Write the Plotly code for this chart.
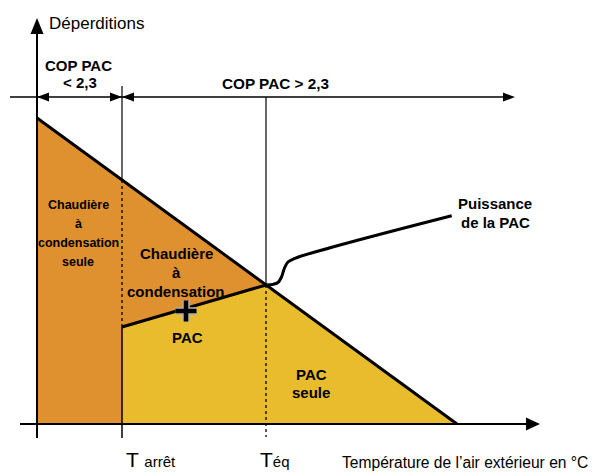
import numpy as np
import plotly.graph_objects as go

# ---------------- data (abstract units: x = outdoor temperature scale, y = heat losses) -------------
dep_x = [0, 420]            # heat-loss line ("Déperditions") from coldest temp to zero-loss temp
dep_y = [306, 0]
T_arret = 85                # heat-pump shutdown temperature
T_eq = 229                  # balance temperature
pac_x = [85, 229]           # heat pump power between T_arret and T_eq
pac_y = [97, 139]
pw_x = [229, 236, 241, 244.5, 247.5, 251, 258, 414.7]   # "Puissance de la PAC" curve
pw_y = [139, 139.6, 141.5, 147, 156, 162, 165.7, 208.3]
cop_split = [0, 85, 478]    # COP zones (dimension line)
x_labels = ["T ", "T"]
x_subs = ["arrêt", "éq"]

ORANGE = "#E0912F"
YELLOW = "#E8BC2C"
FONT = "Liberation Sans, Arial, sans-serif"

def dep(x):
    return float(np.interp(x, dep_x, dep_y))

# page pixel -> data helpers for layout positions (origin of axes at page px (37,424))
OX, OY = 37, 424
def X(px): return px - OX
def Y(py): return OY - py

PAGE_OFF = 8   # default body margin of the html page

fig = go.Figure()

def poly(xs, ys, color):
    fig.add_trace(go.Scatter(x=xs + [xs[0]], y=ys + [ys[0]], mode="lines", fill="toself",
                             fillcolor=color, line=dict(width=0, color=color), hoverinfo="skip"))

def line(xs, ys, width=1.5, dash="solid", color="black", shape="linear"):
    fig.add_trace(go.Scatter(x=xs, y=ys, mode="lines",
                             line=dict(width=width, dash=dash, color=color, shape=shape),
                             hoverinfo="skip"))

# areas
poly([0, 0, T_arret, T_arret], [0, dep(0), dep(T_arret), 0], ORANGE)
poly([T_arret, T_eq, T_arret], [dep(T_arret), pac_y[1], pac_y[0]], ORANGE)
poly([T_arret, T_eq, dep_x[1], T_arret], [pac_y[0], pac_y[1], 0, 0], YELLOW)

# vertical guides
line([T_arret, T_arret], [Y(86), dep(T_arret)], width=1.2)
line([T_arret, T_arret], [dep(T_arret), pac_y[0]], width=1.3, dash="dot")
line([T_arret, T_arret], [pac_y[0], Y(438)], width=1.5)
line([T_eq, T_eq], [Y(97), pac_y[1]], width=1.2)
line([T_eq, T_eq], [pac_y[1], Y(437)], width=1.3, dash="dot")

# axes
line([X(20), X(527)], [0, 0], width=2)
poly([X(526), X(540), X(526)], [6.5, 0, -6.5], "black")
line([0, 0], [Y(438), Y(34)], width=2)
poly([-6.5, 0, 6.5], [Y(34), Y(18), Y(34)], "black")

# dimension line for COP zones
yd = Y(97)
line([X(10), X(505)], [yd, yd], width=1.5)
for tip, d in [(cop_split[0], 1), (cop_split[1], -1), (cop_split[1], 1), (cop_split[2], -1)]:
    poly([tip, tip + d * 12, tip + d * 12], [yd, yd + 4.5, yd - 4.5], "black")

# main lines
line(dep_x, dep_y, width=3)
line(pac_x, pac_y, width=3)
line(pw_x, pw_y, width=3, shape="spline")

# cross marker
cx, cy = X(186), Y(311)
for w, c in [(7.5, "#b0b0b0"), (4.5, "black")]:
    line([cx - 10.5, cx + 10.5], [cy, cy], width=w, color=c)
    line([cx, cx], [cy - 10.5, cy + 10.5], width=w, color=c)

# texts
ann = []
def txt(px, py, s, size, bold=True, xanchor="center", family=FONT, yanchor="middle"):
    ann.append(dict(x=X(px), y=Y(py), text=f"<b>{s}</b>" if bold else s, showarrow=False,
                    xanchor=xanchor, yanchor=yanchor, font=dict(family=family, size=size, color="black")))

txt(47, 23, "Déperditions", 17, bold=False, xanchor="left")
txt(78, 65, "COP PAC", 15)
txt(80, 82, "&lt; 2,3", 15)
txt(275, 83, "COP PAC &gt; 2,3", 15.3)
for i, s in enumerate(["Chaudière", "à", "condensation", "seule"]):
    txt(78, [205, 224, 243, 262][i], s, 12.5)
for i, s in enumerate(["Chaudière", "à", "condensation"]):
    txt(176, [253, 272, 291][i], s, 15)
txt(187, 337, "PAC", 15)
txt(311, 374, "PAC", 15)
txt(311, 392, "seule", 15)
txt(495, 203, "Puissance", 15)
txt(495, 222, "de la PAC", 15)
# x-axis temperature marks (T arrêt, T éq) placed next to their vertical guides
for t_left, t, sub in zip([T_arret + 2, T_eq - 8], x_labels, x_subs):
    ann.append(dict(x=t_left, y=Y(472.5), showarrow=False, xanchor="left", yanchor="bottom",
                    text=f"{t}<span style='font-size:15px'>{sub}</span>",
                    font=dict(family=FONT, size=21, color="black")))
txt(590, 462, "Température de l’air extérieur en °C", 15.6, bold=False, xanchor="right")

fig.update_layout(
    width=598 - PAGE_OFF, height=473 - PAGE_OFF, margin=dict(l=0, r=0, t=0, b=0),
    paper_bgcolor="white", plot_bgcolor="white", showlegend=False, hovermode=False,
    xaxis=dict(range=[X(PAGE_OFF), X(598)], visible=False, fixedrange=True),
    yaxis=dict(range=[Y(473), Y(PAGE_OFF)], visible=False, fixedrange=True),
    annotations=ann,
)
fig.write_html("out.html")
